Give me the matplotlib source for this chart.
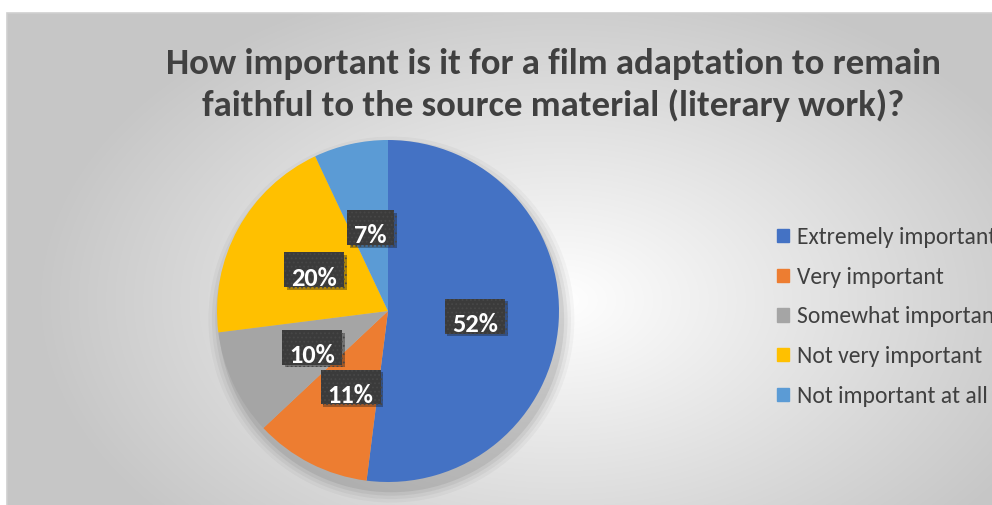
import numpy as np
import matplotlib
matplotlib.use("Agg")
from matplotlib import pyplot as plt
from matplotlib.patches import Rectangle, Circle, Patch
from matplotlib.path import Path
import matplotlib.patheffects as pe

categories = ["Extremely important", "Very important", "Somewhat important",
              "Not very important", "Not important at all"]
shares = [52, 11, 10, 20, 7]
colors = ["#4472C4", "#ED7D31", "#A5A5A5", "#FFC000", "#5B9BD5"]
title = ("How important is it for a film adaptation to remain\n"
         "faithful to the source material (literary work)?")

fonts = ["Carlito", "Liberation Sans Narrow", "DejaVu Sans"]
plt.rcParams["font.family"] = fonts
plt.rcParams["hatch.linewidth"] = 0.8

W, H = 992, 505
fig = plt.figure(figsize=(W / 100, H / 100), dpi=100)

# chart area with a soft radial gradient
bg = fig.add_axes([7 / W, 0, 1 - 7 / W, (H - 13) / H])
xx, yy = np.meshgrid(np.arange(7, W), np.arange(13, H))
t = np.hypot((xx - 560) / 520, (yy - 300) / 330)
shade = 1 - 0.22 * np.clip(t, 0, 1)
bg.imshow(np.dstack([shade] * 3), extent=(7, W, H, 13), aspect="auto",
          interpolation="bilinear")
bg.set_xlim(7, W)
bg.set_ylim(H, 13)
bg.axis("off")
fig.add_artist(Rectangle((7 / W, -0.01), 1, (H - 13) / H + 0.01,
                         transform=fig.transFigure, fill=False,
                         edgecolor="#cfcfcf", lw=1.2))

# pie
ax = fig.add_axes([217 / W, 23 / H, 342 / W, 342 / H])
for r, a in [(1.07, 0.03), (1.05, 0.04), (1.03, 0.05), (1.01, 0.07)]:
    ax.add_patch(Circle((0.02, -0.05), r, color="black", alpha=a, lw=0,
                        clip_on=False))
wedges, texts, autotexts = ax.pie(shares, colors=colors, startangle=90,
                                  counterclock=False, autopct="%1.0f%%",
                                  pctdistance=0.5,
                                  wedgeprops=dict(linewidth=0))
ax.set_xlim(-1, 1)
ax.set_ylim(-1, 1)
ax.set_aspect("equal")
ax.axis("off")


def label_box(x0, y0, width, height, mutation_size):
    # box with more room above the text than below, like the Excel labels
    px = 0.27 * mutation_size
    top = 0.55 * mutation_size
    bot = -0.1 * mutation_size
    verts = [(x0 - px, y0 - bot), (x0 + width + px, y0 - bot),
             (x0 + width + px, y0 + height + top), (x0 - px, y0 + height + top),
             (x0 - px, y0 - bot)]
    return Path(verts, closed=True)


for at in autotexts:
    x, y = at.get_position()
    s = at.get_text()
    at.set_visible(False)
    lab = ax.annotate(s, (x, y), xytext=(1, -6), textcoords="offset points",
                      ha="center", va="center", color="white", fontsize=19,
                      fontweight="bold",
                      bbox=dict(boxstyle=label_box, fc="#3b3b3b",
                                ec="#474747", lw=0, hatch="...."))
    lab.get_bbox_patch().set_path_effects(
        [pe.SimplePatchShadow(offset=(2, -2), alpha=0.35), pe.Normal()])

fig.text(553 / W, 1 - 85 / H, title, ha="center", va="center", fontsize=26.5,
         fontweight="bold", color="#404040", linespacing=1.32)

handles = [Patch(color=c) for c in colors]
fig.legend(handles, categories, loc="upper left",
           bbox_to_anchor=(777 / W, 1 - 227 / H), bbox_transform=fig.transFigure,
           frameon=False, fontsize=17, handlelength=0.5, handleheight=0.5,
           handletextpad=0.35, labelspacing=0.79, borderpad=0, borderaxespad=0,
           labelcolor="#404040")

fig.savefig("out.png", dpi=100)
